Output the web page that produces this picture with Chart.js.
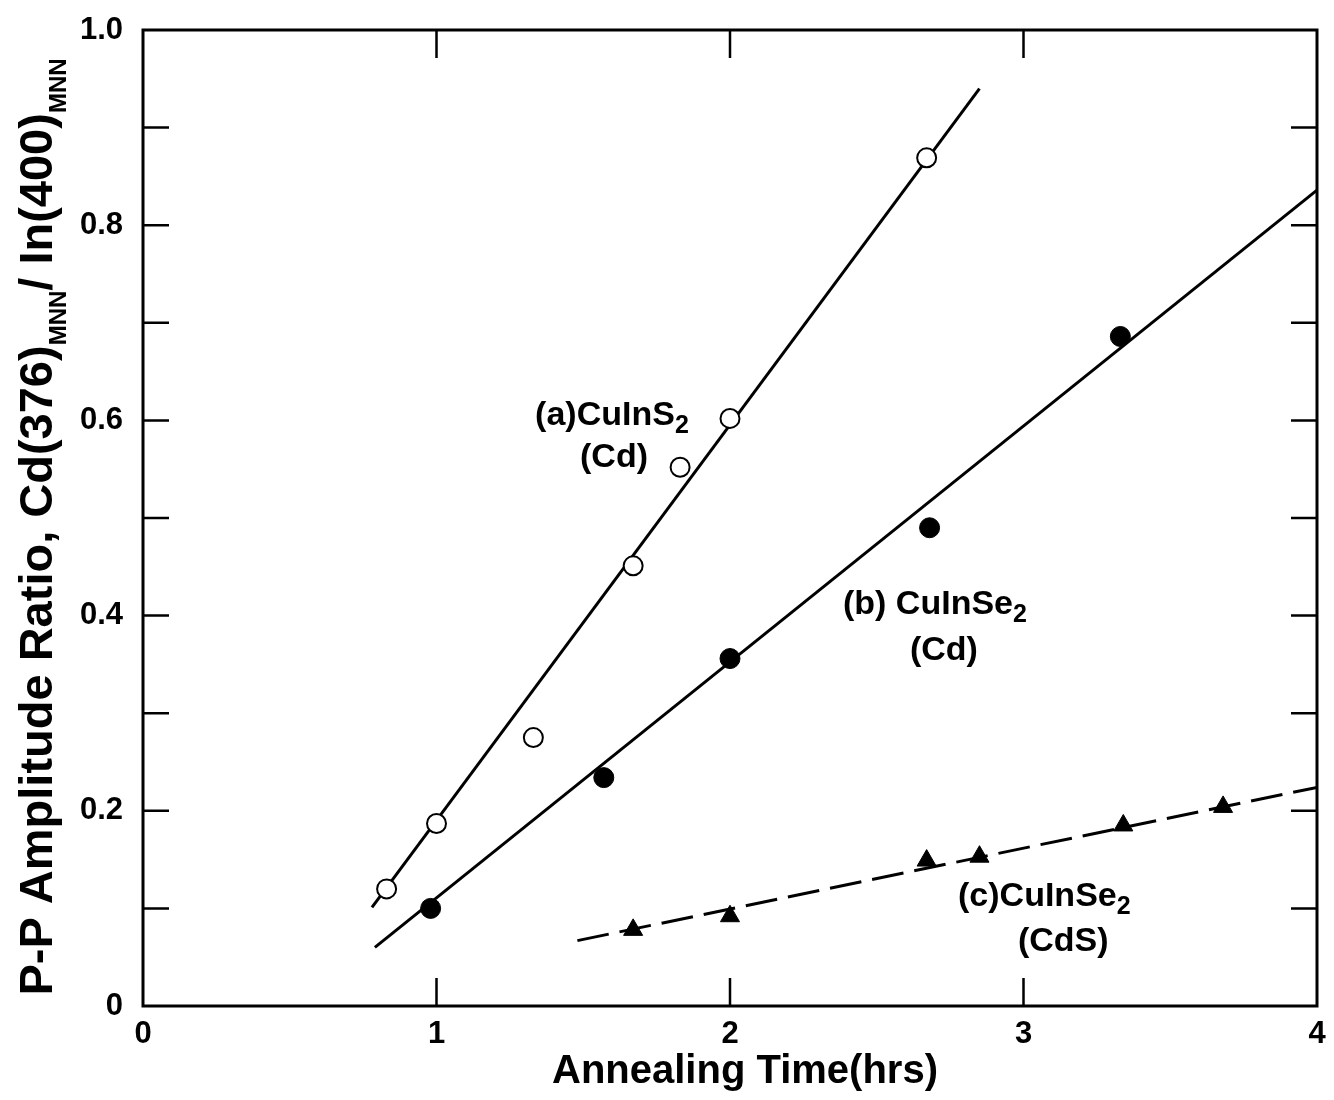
<!DOCTYPE html>
<html>
  <head>
    <title>Cd Auger ratio vs annealing time</title>
    <style>
      body { margin: 0; background: #fff; }
      .chart-container { position: relative; width: 1334px; height: 1100px; }
    </style>
  </head>
  <body>
    <div class="chart-container">
      <canvas id="chart"></canvas>
    </div>

    <script src="https://cdn.jsdelivr.net/npm/chart.js"></script>
    <script>
      // Data
      var timeA = [0.83, 1.0, 1.33, 1.67, 1.83, 2.0, 2.67]
      var ratioA = [0.12, 0.187, 0.275, 0.451, 0.552, 0.602, 0.869]
      var timeB = [0.98, 1.57, 2.0, 2.68, 3.33]
      var ratioB = [0.10, 0.234, 0.356, 0.49, 0.686]
      var timeC = [1.67, 2.0, 2.67, 2.85, 3.34, 3.68]
      var ratioC = [0.078, 0.092, 0.149, 0.153, 0.185, 0.204]

      // fitted straight lines (end points)
      var fitAx = [0.78, 2.85], fitAy = [0.101, 0.94]
      var fitBx = [0.79, 4.0], fitBy = [0.06, 0.836]
      var fitCx = [1.48, 4.0], fitCy = [0.067, 0.224]

      var xTickLabels = ["0", "1", "2", "3", "4"]
      var yTickLabels = ["0", "0.2", "0.4", "0.6", "0.8", "1.0"]

      var labelText = ["(a)CuInS", "(Cd)", "(b) CuInSe", "(Cd)", "(c)CuInSe", "(CdS)"]
      var labelSub = ["2", "", "2", "", "2", ""]
      var labelX = [1.336, 1.489, 2.385, 2.613, 2.777, 2.981]
      var labelY = [0.595, 0.552, 0.402, 0.354, 0.1026, 0.0564]

      var FONT = "'Liberation Sans', Arial, sans-serif"

      function pts(xs, ys) {
        return xs.map(function (x, i) { return { x: x, y: ys[i] } })
      }

      // draws text with subscripts, starting at (x, y) baseline, left aligned
      function drawParts(ctx, parts, x, y, size, subSize, subDrop) {
        parts.forEach(function (p) {
          ctx.font = "bold " + (p.sub ? subSize : size) + "px " + FONT
          ctx.fillText(p.t, x, y + (p.sub ? subDrop : 0))
          x += ctx.measureText(p.t).width
        })
        return x
      }
      function partsWidth(ctx, parts, size, subSize) {
        var w = 0
        parts.forEach(function (p) {
          ctx.font = "bold " + (p.sub ? subSize : size) + "px " + FONT
          w += ctx.measureText(p.t).width
        })
        return w
      }

      var framePlugin = {
        id: "frame",
        afterDraw: function (chart) {
          var ctx = chart.ctx
          var a = chart.chartArea
          var xs = chart.scales.x
          var ys = chart.scales.y
          ctx.save()
          ctx.strokeStyle = "#000"
          ctx.lineWidth = 3
          ctx.strokeRect(a.left, a.top, a.right - a.left, a.bottom - a.top)

          // inward tick marks
          ctx.lineWidth = 2.5
          ctx.beginPath()
          for (var i = 1; i < 10; i++) {
            var py = ys.getPixelForValue(i / 10)
            ctx.moveTo(a.left, py); ctx.lineTo(a.left + 26, py)
            ctx.moveTo(a.right, py); ctx.lineTo(a.right - 26, py)
          }
          for (var j = 1; j < 4; j++) {
            var px = xs.getPixelForValue(j)
            ctx.moveTo(px, a.bottom); ctx.lineTo(px, a.bottom - 28)
            ctx.moveTo(px, a.top); ctx.lineTo(px, a.top + 28)
          }
          ctx.stroke()

          // curve labels
          ctx.fillStyle = "#000"
          ctx.textBaseline = "alphabetic"
          ctx.textAlign = "left"
          labelText.forEach(function (t, k) {
            var parts = [{ t: t }]
            if (labelSub[k]) parts.push({ t: labelSub[k], sub: true })
            drawParts(ctx, parts, xs.getPixelForValue(labelX[k]), ys.getPixelForValue(labelY[k]), 34, 25, 8)
          })

          // x-axis title
          ctx.font = "bold 40px " + FONT
          ctx.textAlign = "center"
          ctx.fillText("Annealing Time(hrs)", 745, 1083)
          ctx.textAlign = "left"

          // y-axis title with subscripts
          var tparts = [
            { t: "P-P Amplitude Ratio, Cd(376)" },
            { t: "MNN", sub: true },
            { t: "/ In(400)" },
            { t: "MNN", sub: true },
          ]
          var w = partsWidth(ctx, tparts, 47, 24)
          ctx.translate(52, 527)
          ctx.rotate(-Math.PI / 2)
          drawParts(ctx, tparts, -w / 2, 0, 47, 24, 14)
          ctx.restore()
        },
      }

      var config = {
        type: "scatter",
        data: {
          datasets: [
            {
              label: "(a) CuInS2 (Cd)",
              data: pts(timeA, ratioA),
              pointStyle: "circle",
              pointRadius: 9.5,
              pointBackgroundColor: "#fff",
              pointBorderColor: "#000",
              pointBorderWidth: 2,
              order: 1,
            },
            {
              label: "(b) CuInSe2 (Cd)",
              data: pts(timeB, ratioB),
              pointStyle: "circle",
              pointRadius: 10,
              pointBackgroundColor: "#000",
              pointBorderColor: "#000",
              pointBorderWidth: 1,
              order: 1,
            },
            {
              label: "(c) CuInSe2 (CdS)",
              data: pts(timeC, ratioC),
              pointStyle: "triangle",
              pointRadius: 11,
              pointBackgroundColor: "#000",
              pointBorderColor: "#000",
              pointBorderWidth: 1,
              order: 1,
            },
            {
              label: "fit a",
              data: pts(fitAx, fitAy),
              showLine: true,
              pointRadius: 0,
              borderColor: "#000",
              borderWidth: 3,
              order: 2,
            },
            {
              label: "fit b",
              data: pts(fitBx, fitBy),
              showLine: true,
              pointRadius: 0,
              borderColor: "#000",
              borderWidth: 3,
              order: 2,
            },
            {
              label: "fit c",
              data: pts(fitCx, fitCy),
              showLine: true,
              pointRadius: 0,
              borderColor: "#000",
              borderWidth: 3,
              borderDash: [32, 11],
              order: 2,
            },
          ],
        },
        options: {
          responsive: true,
          maintainAspectRatio: false,
          animation: false,
          events: [],
          layout: { padding: { top: 30, right: 17, left: 0, bottom: 0 } },
          plugins: { legend: { display: false }, tooltip: { enabled: false } },
          scales: {
            x: {
              type: "linear",
              min: 0,
              max: 4,
              grid: { display: false, drawTicks: false },
              border: { display: false },
              ticks: {
                stepSize: 1,
                padding: 10,
                color: "#000",
                font: { family: FONT, size: 31, weight: "bold" },
                callback: function (v) { return xTickLabels[Math.round(v)] },
              },
              afterFit: function (s) {
                s.height = 94
                s.paddingLeft = 0
                s.paddingRight = 0
              },
            },
            y: {
              min: 0,
              max: 1,
              grid: { display: false, drawTicks: false },
              border: { display: false },
              ticks: {
                stepSize: 0.1,
                autoSkip: false,
                padding: 20,
                color: "#000",
                font: { family: FONT, size: 31, weight: "bold" },
                callback: function (v) {
                  var n = Math.round(v * 10)
                  return n % 2 === 0 ? yTickLabels[n / 2] : ""
                },
              },
              afterFit: function (s) {
                s.width = 143
                s.paddingTop = 0
                s.paddingBottom = 0
              },
            },
          },
        },
        plugins: [framePlugin],
      }

      var ctx = document.getElementById("chart").getContext("2d")
      new Chart(ctx, config)
    </script>
  </body>
</html>
